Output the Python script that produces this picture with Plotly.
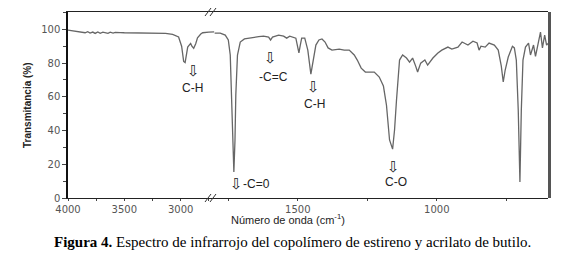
import plotly.graph_objects as go

# Left segment (4000-2700 cm-1)
wn_left = [4000, 3970, 3937, 3900, 3870, 3848, 3825, 3804, 3780, 3759, 3735, 3714, 3690, 3670,
           3645, 3625, 3600, 3580, 3555, 3536, 3500, 3446, 3400, 3350, 3268, 3200, 3134, 3071,
           3036, 3018, 2991, 2973, 2960, 2950, 2937, 2920, 2911, 2900, 2884, 2866, 2850, 2821,
           2804, 2750, 2700]
tr_left = [99.6, 99.3, 99.1, 98.8, 98.5, 98.0, 98.6, 97.8, 98.4, 97.6, 98.5, 97.7, 98.4, 98.0,
           97.6, 98.3, 97.8, 98.2, 97.9, 98.1, 98.0, 98.0, 97.9, 98.0, 97.9, 97.8, 97.6, 97.0,
           96.2, 95.5, 90.0, 81.0, 80.3, 84.0, 89.5, 91.0, 91.7, 90.0, 88.8, 91.5, 95.0, 97.2,
           98.0, 98.4, 98.5]

# Right segment (1800-600 cm-1)
wn_right = [1800, 1779, 1761, 1750, 1743, 1739, 1734, 1730, 1726, 1723, 1717, 1707, 1692, 1678,
            1659, 1641, 1623, 1605, 1598, 1591, 1569, 1551, 1540, 1529, 1507, 1500, 1496, 1491,
            1486, 1475, 1464, 1453, 1446, 1435, 1424, 1413, 1402, 1391, 1377, 1351, 1333, 1315,
            1297, 1286, 1272, 1257, 1243, 1225, 1207, 1192, 1181, 1170, 1159, 1152, 1145, 1139,
            1134, 1123, 1109, 1098, 1087, 1076, 1069, 1058, 1043, 1033, 1014, 996, 982, 960,
            946, 924, 909, 888, 870, 855, 848, 841, 826, 812, 793, 779, 768, 761, 754, 743,
            728, 721, 714, 707, 701, 696, 690, 681, 670, 663, 652, 645, 634, 627, 620, 612,
            605, 598]
tr_right = [97.8, 97.8, 96.6, 93.7, 84.8, 64.0, 28.5, 15.4, 34.0, 61.0, 84.8, 92.5, 94.3, 94.8,
            95.4, 95.7, 96.0, 95.4, 93.7, 95.4, 96.6, 96.0, 94.8, 96.0, 94.8, 89.0, 86.0, 90.7,
            94.8, 94.8, 87.7, 73.5, 80.6, 90.7, 93.7, 94.3, 92.5, 89.0, 87.7, 88.3, 87.7, 87.7,
            84.8, 81.8, 77.0, 74.7, 74.7, 74.7, 71.7, 66.4, 55.0, 34.4, 29.0, 40.3, 58.0, 73.0,
            81.8, 84.8, 83.0, 80.6, 83.0, 78.2, 74.7, 80.0, 81.8, 78.8, 83.0, 86.0, 87.7, 89.5,
            88.3, 89.5, 92.5, 90.7, 93.0, 91.9, 87.7, 90.0, 89.5, 91.9, 90.7, 87.7, 78.2, 68.8,
            75.9, 83.6, 90.0, 89.0, 81.8, 52.0, 9.5, 52.0, 81.8, 89.5, 91.9, 84.8, 90.7, 84.0,
            93.7, 98.4, 89.0, 96.6, 90.7, 91.9]

y_ticks = [0, 20, 40, 60, 80, 100]

# Band labels: (axis, wavenumber, transmittance[, text])
band_arrows = [("x", 2884, 75.5), ("x2", 1598, 83.0), ("x2", 1443, 66.0), ("x2", 1157, 18.5),
               ("x2", 1719, 8.5)]
band_texts = [("x", 2895, 65.5, "C-H"), ("x2", 1588, 71.5, "-C=C"), ("x2", 1440, 56.0, "C-H"),
              ("x2", 1145, 9.5, "C-O")]
co_label = ("x2", 1705, 8.5, "-C=0")

# page has an 8px body margin: figure drawn at (8, 8)
OFF = 8
W, H = 586 - OFF, 260 - OFF
PL, PR, PT, PB = 68, 548, 12, 198          # plot area in window pixels
pw, ph = PR - PL, PB - PT
split = 0.305

fig = go.Figure()
line_style = dict(color="#666666", width=1.3)
fig.add_trace(go.Scatter(x=wn_left, y=tr_left, mode="lines", line=line_style,
                         xaxis="x", yaxis="y", showlegend=False))
fig.add_trace(go.Scatter(x=wn_right, y=tr_right, mode="lines", line=line_style,
                         xaxis="x2", yaxis="y", showlegend=False))

tickfont = dict(family="DejaVu Sans", size=10, color="#555555")
xcommon = dict(showline=True, linecolor="#222222", linewidth=1.2, mirror=True,
               ticks="outside", ticklen=2, tickcolor="#444444", tickfont=tickfont,
               showgrid=False, zeroline=False, dtick=500, tick0=0,
               minor=dict(dtick=250, ticks="outside", ticklen=2, tickcolor="#444444"))
fig.update_layout(
    width=W, height=H,
    margin=dict(l=PL - OFF, r=W - (PR - OFF), t=PT - OFF, b=H - (PB - OFF)),
    paper_bgcolor="white", plot_bgcolor="white",
    xaxis=dict(domain=[0, split], range=[4000, 2700], anchor="y", **xcommon),
    xaxis2=dict(domain=[split, 1], range=[1800, 600], anchor="y", **xcommon),
    yaxis=dict(range=[0, 110.3], tickvals=y_ticks, showline=True, linecolor="#111111",
               linewidth=1.5, ticks="outside", ticklen=4, tickcolor="#444444",
               tickfont=tickfont, showgrid=False, zeroline=False, automargin=False,
               minor=dict(dtick=10, ticks="outside", ticklen=3, tickcolor="#444444")),
)
fig.update_xaxes(automargin=False)


def px(xw):
    return (xw - PL) / pw


def py(yw):
    return (PB - yw) / ph


# right border (thick)
fig.add_shape(type="line", xref="paper", yref="paper", x0=px(549.5), x1=px(549.5), y0=0, y1=1,
              line=dict(color="#555555", width=3))
# axis break marks
for yb in (PT, PB):
    for dx in (0, 5):
        fig.add_shape(type="line", xref="paper", yref="paper",
                      x0=px(205 + dx), y0=py(yb + 4), x1=px(211 + dx), y1=py(yb - 4),
                      line=dict(color="#333333", width=1))

labfont = dict(family="Liberation Sans", size=12, color="#222222")
for ax, xv, yv in band_arrows:
    fig.add_annotation(x=xv, y=yv, xref=ax, yref="y", text="⇩", showarrow=False,
                       font=dict(family="DejaVu Sans", size=15, color="#222222"))
for ax, xv, yv, t in band_texts:
    fig.add_annotation(x=xv, y=yv, xref=ax, yref="y", text=t, showarrow=False, font=labfont)
fig.add_annotation(x=co_label[1], y=co_label[2], xref=co_label[0], yref="y",
                   text=co_label[3], showarrow=False, xanchor="left", font=labfont)

fig.add_annotation(x=px(288), y=py(219), xref="paper", yref="paper",
                   xanchor="center", yanchor="middle",
                   text="Número de onda (cm<sup>-1</sup>)", showarrow=False,
                   font=dict(family="Liberation Sans", size=11, color="#222222"))
fig.add_annotation(x=px(27), y=py(105), xref="paper", yref="paper",
                   xanchor="center", yanchor="middle",
                   text="<b>Transmitancia (%)</b>", textangle=-90, showarrow=False,
                   font=dict(family="Liberation Sans", size=10, color="#222222"))
fig.add_annotation(x=px(292), y=py(242), xref="paper", yref="paper",
                   xanchor="center", yanchor="middle",
                   text="<b>Figura 4.</b> Espectro de infrarrojo del copolímero de estireno y acrilato de butilo.",
                   showarrow=False,
                   font=dict(family="Liberation Serif", size=15, color="#000000"))

fig.write_html("out.html")
